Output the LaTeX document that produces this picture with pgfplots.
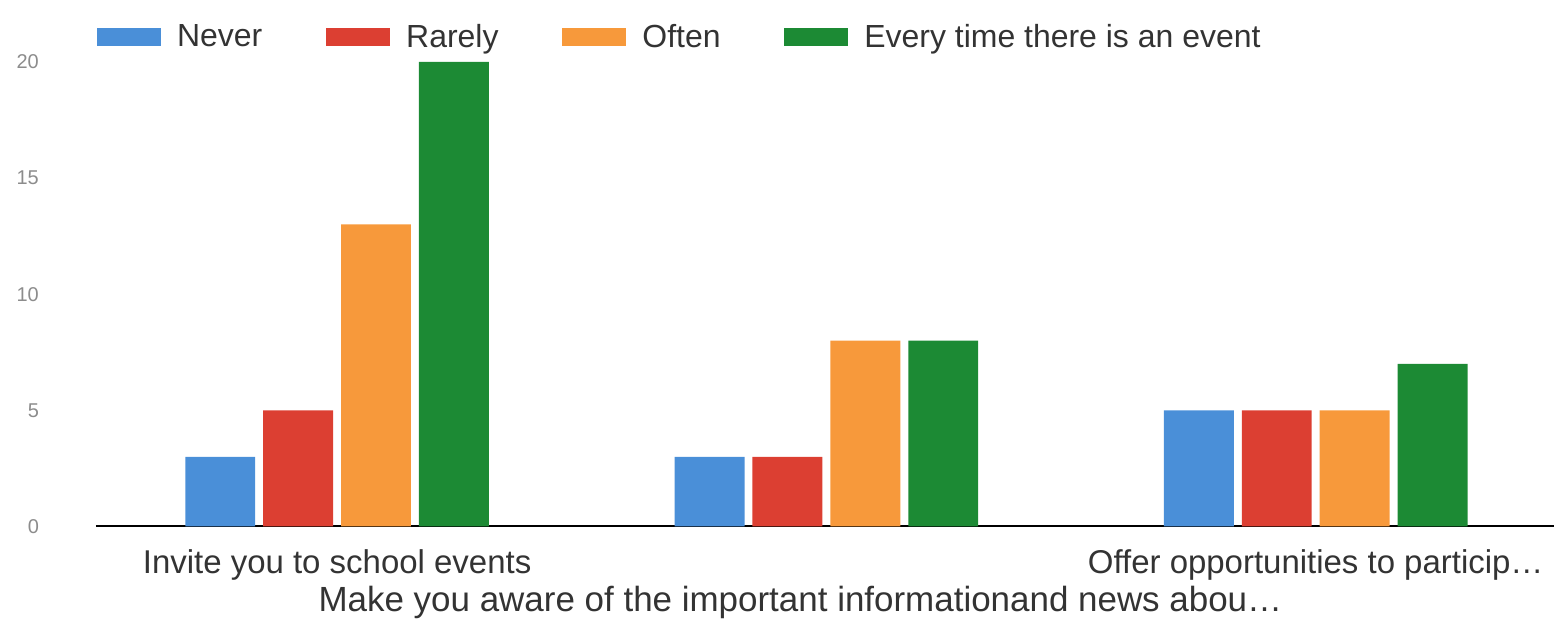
\documentclass[border={5pt 6pt 0pt 8pt}]{standalone}
\usepackage{pgfplots}
\pgfplotsset{compat=1.18}
\usepackage{fontspec}
\setmainfont{Liberation Sans}
\definecolor{cNever}{HTML}{4A8FD8}
\definecolor{cRarely}{HTML}{DC3F32}
\definecolor{cOften}{HTML}{F7993B}
\definecolor{cEvery}{HTML}{1C8A34}
\begin{document}
\begin{tikzpicture}
\begin{axis}[
  scale only axis,
  width=730pt, height=250pt,
  ybar=4pt, bar width=35pt,
  xmin=-0.493, xmax=2.487, ymin=0, ymax=21.5,
  xtick={0,1,2},
  xticklabels={{Invite you to school events},{\raisebox{-31pt}[0pt][36pt]{\hspace*{-26pt}\fontsize{17.5}{20}\selectfont Make you aware of the important informationand news abou\ldots}},{Offer opportunities to particip\ldots}},
  ytick={0,5,10,15,20},
  axis x line*=bottom, axis y line*=left,
  y axis line style={draw=none},
  x axis line style={black, line width=1pt, -},
  major tick length=0pt,
  /pgf/number format/assume math mode=true,
  yticklabel style={font=\fontsize{10}{12}\selectfont, text=black!45, xshift=-25pt},
  xticklabel style={font=\fontsize{16.5}{19}\selectfont, text=black!80, yshift=-8pt},
  legend columns=4,
  legend style={at={(rel axis cs:0,1)}, anchor=west, xshift=-2.5pt, yshift=-5pt, draw=none, fill=none,
    font=\fontsize{16}{19}\selectfont, text=black!80,
    /tikz/every odd column/.append style={column sep=6pt},
    /tikz/every even column/.append style={column sep=30pt}},
  legend image code/.code={\fill[#1] (0pt,-4.5pt) rectangle (32pt,4.5pt);},
]
\addplot[fill=cNever, draw=none] coordinates {(0,3) (1,3) (2,5)};
\addplot[fill=cRarely, draw=none] coordinates {(0,5) (1,3) (2,5)};
\addplot[fill=cOften, draw=none] coordinates {(0,13) (1,8) (2,5)};
\addplot[fill=cEvery, draw=none] coordinates {(0,20) (1,8) (2,7)};
\legend{Never, Rarely, Often, Every time there is an event}
\end{axis}
\end{tikzpicture}
\end{document}
